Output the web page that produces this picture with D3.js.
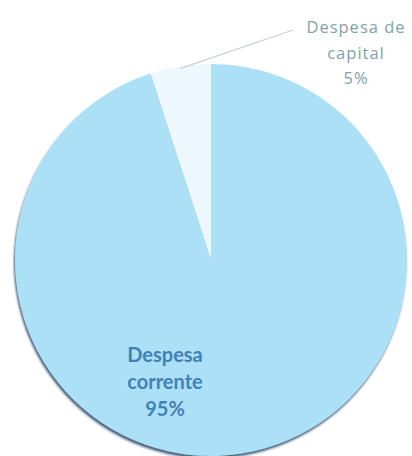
<!DOCTYPE html>
<html>
<head>
<meta charset="utf-8">
<script src="https://cdn.jsdelivr.net/npm/d3@7"></script>
<style>
  body { margin: 0; background: #ffffff; }
  svg { display: block; }
</style>
</head>
<body>
<div id="chart"></div>
<script>
// slice data
var categories = ["Despesa corrente", "Despesa de capital"];
var values = [95, 5];
var labels = ["95%", "5%"];

var width = 412, height = 456;
var cx = 211, cy = 260, radius = 196;

var svg = d3.select("#chart")
    .append("svg")
    .attr("width", width)
    .attr("height", height);

// soft shadow under the pie
var defs = svg.append("defs");
var filt = defs.append("filter")
    .attr("id", "shadow")
    .attr("x", "-10%").attr("y", "-10%")
    .attr("width", "120%").attr("height", "120%");
filt.append("feDropShadow")
    .attr("dx", -1).attr("dy", 2.5)
    .attr("stdDeviation", 1.2)
    .attr("flood-color", "#1d3f63")
    .attr("flood-opacity", 0.85);

var data = categories.map(function(c, i) { return {name: c, value: values[i], label: labels[i]}; });

var pie = d3.pie()
    .sort(null)
    .value(function(d) { return d.value; });

var arc = d3.arc()
    .innerRadius(0)
    .outerRadius(radius);

var color = d3.scaleOrdinal()
    .domain(categories)
    .range(["#abe0f6", "#ecf8fd"]);

var g = svg.append("g")
    .attr("transform", "translate(" + cx + "," + cy + ")");

g.append("g")
    .attr("filter", "url(#shadow)")
    .selectAll("path")
    .data(pie(data))
    .join("path")
        .attr("d", arc)
        .attr("fill", function(d) { return color(d.data.name); });

// leader line for the small slice
var arcs = pie(data);
var small = arcs[1];
var mid = (small.startAngle + small.endAngle) / 2;
var p0 = [Math.sin(mid) * (radius - 2), -Math.cos(mid) * (radius - 2)];
g.append("line")
    .attr("x1", p0[0]).attr("y1", p0[1])
    .attr("x2", 82).attr("y2", -230)
    .attr("stroke", "#c9cfd2")
    .attr("stroke-width", 1.2);

// label of the small slice
var capText = svg.append("text")
    .attr("text-anchor", "middle")
    .attr("font-family", "Open Sans, sans-serif")
    .attr("font-size", 16.5)
    .attr("letter-spacing", 1)
    .attr("fill", "#7fa2aa");
["Despesa de", "capital", small.data.label].forEach(function(t, i) {
    capText.append("tspan")
        .attr("x", 356)
        .attr("y", 33 + i * 25.5)
        .text(t);
});

// label of the large slice
var big = arcs[0];
var curText = svg.append("text")
    .attr("text-anchor", "middle")
    .attr("font-family", "Lato, sans-serif")
    .attr("font-weight", "bold")
    .attr("font-size", 20)
    .attr("fill", "#4281b6");
["Despesa", "corrente", big.data.label].forEach(function(t, i) {
    curText.append("tspan")
        .attr("x", 165)
        .attr("y", 362 + i * 27)
        .text(t);
});
</script>
</body>
</html>
